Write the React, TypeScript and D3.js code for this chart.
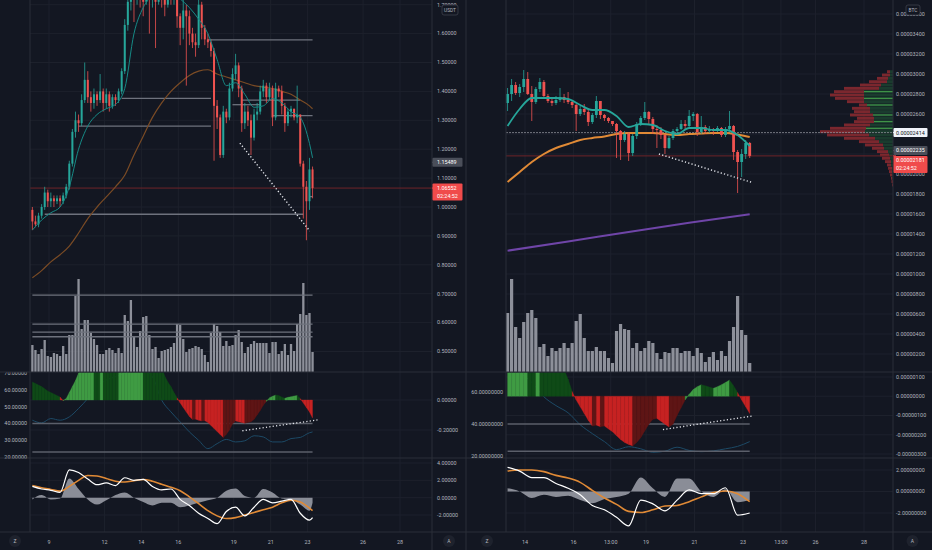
import * as d3 from "d3";

const candlesPerDay = 6; // 4h candles

// ---------------- left chart (USDT pair) ----------------
const leftTimeTicks = [9, 12, 14, 16, 19, 21, 23, 26, 28];
const leftTimeLabels = ["9", "12", "14", "16", "19", "21", "23", "26", "28"];
const leftFirstDay = 8.1;
const leftFirstOpen = 0.99;
const leftClose = [0.95, 0.94, 0.97, 1.0, 1.05, 1.02, 1.03, 1.02, 1.03, 1.02, 1.04, 1.07, 1.15, 1.26, 1.3, 1.29, 1.37, 1.44, 1.38, 1.36, 1.39, 1.37, 1.4, 1.36, 1.39, 1.35, 1.38, 1.37, 1.4, 1.47, 1.63, 1.71, 1.74, 1.72, 1.75, 1.73, 1.71, 1.74, 1.72, 1.73, 1.71, 1.74, 1.73, 1.7, 1.73, 1.72, 1.74, 1.66, 1.62, 1.68, 1.66, 1.6, 1.57, 1.56, 1.7, 1.62, 1.58, 1.57, 1.54, 1.35, 1.31, 1.18, 1.33, 1.31, 1.41, 1.46, 1.49, 1.41, 1.29, 1.33, 1.3, 1.24, 1.32, 1.33, 1.4, 1.42, 1.38, 1.41, 1.31, 1.41, 1.4, 1.35, 1.29, 1.33, 1.34, 1.31, 1.32, 1.15, 1.07, 1.02, 1.13, 1.066];
const leftHigh = [1.0, 0.97, 0.98, 1.01, 1.07, 1.06, 1.05, 1.04, 1.04, 1.04, 1.05, 1.08, 1.16, 1.27, 1.33, 1.32, 1.39, 1.5, 1.47, 1.4, 1.41, 1.4, 1.46, 1.41, 1.41, 1.4, 1.39, 1.39, 1.41, 1.48, 1.65, 1.73, 1.77, 1.76, 1.78, 1.77, 1.75, 1.76, 1.76, 1.75, 1.74, 1.76, 1.78, 1.74, 1.75, 1.76, 1.77, 1.75, 1.67, 1.72, 1.7, 1.68, 1.62, 1.6, 1.72, 1.71, 1.63, 1.6, 1.58, 1.55, 1.37, 1.32, 1.35, 1.34, 1.43, 1.48, 1.53, 1.5, 1.42, 1.36, 1.35, 1.32, 1.34, 1.36, 1.42, 1.44, 1.43, 1.43, 1.42, 1.43, 1.42, 1.42, 1.36, 1.34, 1.35, 1.34, 1.42, 1.32, 1.16, 1.09, 1.17, 1.14];
const leftLow = [0.92, 0.93, 0.93, 0.96, 0.99, 1.0, 1.0, 1.0, 1.01, 1.0, 1.01, 1.03, 1.06, 1.14, 1.24, 1.26, 1.28, 1.36, 1.36, 1.33, 1.34, 1.35, 1.36, 1.33, 1.34, 1.33, 1.34, 1.35, 1.36, 1.39, 1.46, 1.61, 1.68, 1.64, 1.7, 1.69, 1.66, 1.7, 1.6, 1.69, 1.55, 1.7, 1.69, 1.66, 1.69, 1.7, 1.7, 1.62, 1.56, 1.58, 1.42, 1.56, 1.55, 1.52, 1.55, 1.58, 1.56, 1.55, 1.52, 1.16, 1.27, 1.17, 1.17, 1.29, 1.3, 1.4, 1.44, 1.38, 1.26, 1.27, 1.28, 1.18, 1.23, 1.3, 1.32, 1.38, 1.36, 1.37, 1.28, 1.3, 1.38, 1.32, 1.26, 1.28, 1.31, 1.3, 1.29, 1.14, 0.96, 0.885, 0.99, 1.03];
const leftVolume = [27, 22, 18, 23, 32, 16, 15, 19, 18, 16, 26, 18, 37, 37, 76, 93, 43, 52, 52, 39, 33, 27, 18, 18, 22, 24, 22, 19, 24, 19, 57, 51, 72, 35, 25, 41, 55, 56, 37, 23, 25, 14, 21, 22, 23, 25, 29, 48, 47, 33, 20, 23, 24, 26, 25, 23, 17, 10, 39, 48, 46, 40, 26, 31, 26, 27, 37, 42, 30, 19, 25, 28, 31, 29, 29, 29, 29, 19, 30, 30, 18, 21, 28, 17, 28, 21, 48, 58, 89, 57, 59, 20];
const leftSqueeze = [0.12, 0.11, 0.1, 0.09, 0.075, 0.06, 0.05, 0.04, 0.03, 0.02, -0.005, 0.01, 0.05, 0.09, 0.13, 0.18, 0.22, 0.26, 0.3, 0.33, 0.35, 0.34, 0.33, 0.36, 0.35, 0.34, 0.33, 0.32, 0.31, 0.33, 0.36, 0.4, 0.44, 0.47, 0.5, 0.52, 0.54, 0.53, 0.5, 0.46, 0.41, 0.35, 0.22, 0.16, 0.12, 0.09, 0.05, 0.015, -0.02, -0.05, -0.08, -0.11, -0.13, -0.128, -0.135, -0.14, -0.138, -0.15, -0.17, -0.19, -0.21, -0.23, -0.25, -0.23, -0.2, -0.16, -0.14, -0.145, -0.15, -0.155, -0.15, -0.145, -0.13, -0.1, -0.07, -0.035, -0.01, 0.015, 0.025, 0.033, 0.03, 0.02, 0.012, 0.018, 0.022, 0.027, 0.03, 0.01, -0.02, -0.05, -0.08, -0.12];
// indicator lines read every third candle
const leftSampleIdx = [0, 3, 6, 9, 12, 15, 18, 21, 24, 27, 30, 33, 36, 39, 42, 45, 48, 51, 54, 57, 60, 63, 66, 69, 72, 75, 78, 81, 84, 87, 90, 91];
const leftRsi = [42, 40.4, 43, 42, 44, 49, 55, 62, 66, 68, 70, 72, 72, 68, 54, 47, 41, 35, 30, 25, 28, 30.5, 29, 29.7, 32.7, 32, 29, 29, 31, 31.7, 34.5, 35];
const leftMacd = [1.3, 1.0, 0.85, 0.6, 3.2, 2.9, 2.15, 1.5, 1.7, 1.4, 2.3, 2.0, 2.1, 1.3, 0.9, 1.0, -0.2, -0.9, -1.8, -2.4, -3.0, -1.6, -1.1, -2.1, -1.1, -0.2, -0.6, -0.4, -0.2, -1.8, -2.6, -2.3];
const leftSignal = [1.4, 1.15, 0.95, 0.75, 1.3, 2.0, 2.55, 2.5, 2.2, 1.9, 1.8, 1.95, 2.1, 1.9, 1.55, 1.2, 0.8, 0.1, -0.7, -1.5, -2.1, -2.4, -2.3, -2.0, -1.7, -1.4, -1.1, -0.6, -0.3, -0.5, -1.2, -1.5];
const leftHist = [-0.2, 0.3, -0.2, -0.1, 2.2, 1.0, -0.2, -0.8, -0.3, 0.3, 0.6, 0, -0.5, -0.9, -0.6, -0.6, -1.1, -0.9, -0.6, -0.3, 0, 0.8, 1.05, 0.2, 0, 1.0, 0.6, -0.1, -0.2, -0.8, -1.5, -0.6];
const leftEma = [0.92, 0.955, 0.98, 1.0, 1.07, 1.2, 1.28, 1.32, 1.34, 1.355, 1.41, 1.6, 1.69, 1.73, 1.74, 1.74, 1.72, 1.69, 1.65, 1.6, 1.51, 1.42, 1.43, 1.39, 1.345, 1.35, 1.375, 1.36, 1.33, 1.31, 1.22, 1.17];
const leftSma = [0.755, 0.78, 0.81, 0.835, 0.865, 0.91, 0.96, 1.0, 1.035, 1.07, 1.11, 1.18, 1.245, 1.31, 1.36, 1.4, 1.43, 1.455, 1.47, 1.475, 1.46, 1.45, 1.44, 1.43, 1.42, 1.415, 1.41, 1.4, 1.39, 1.37, 1.35, 1.34];
const leftLevelPrice = [1.578, 1.376, 1.28, 0.975, 1.37, 1.316, 1.036, 1.354, 0.695, 0.595, 0.567, 0.551];
const leftLevelFrom = [57, 29, 15, 4, 68, 78, 90, 65, 0, 0, 0, 0];
const leftLevelTo = [91, 58, 58, 88, 87, 91, 91, 74, 91, 91, 91, 91];
const leftTrendIdx = [67.4, 90.1];
const leftTrendPrice = [1.221, 0.917];
const leftSqzTrendIdx = [68.2, 92.6];
const leftSqzTrendVal = [-0.205, -0.133];
const leftPriceTicks = [0.5, 0.6, 0.7, 0.8, 0.9, 1.0, 1.1, 1.2, 1.3, 1.4, 1.5, 1.6, 1.7];
const leftSqzTicks = [0, -0.2];
const leftRsiTicks = [70, 60, 50, 40, 30, 20];
const leftMacdTicks = [4, 2, 0, -2];

// ---------------- right chart (BTC pair, values in 1e-6 BTC) ----------------
const rightTimeTicks = [14, 16, 17.54, 19, 21, 23, 24.57, 26, 28];
const rightTimeLabels = ["14", "16", "13:00", "19", "21", "23", "13:00", "26", "28"];
const rightFirstDay = 13.28;
const rightFirstOpen = 27.1;
const rightClose = [28.0, 28.9, 28.1, 28.7, 29.5, 28.0, 27.2, 28.5, 29.2, 27.8, 27.3, 27.1, 27.4, 27.7, 27.4, 27.2, 26.9, 26.0, 26.5, 26.2, 25.2, 25.9, 27.3, 25.9, 25.6, 25.3, 25.0, 24.3, 23.4, 24.0, 22.1, 23.8, 25.0, 25.6, 26.2, 25.5, 24.5, 24.4, 23.9, 22.6, 23.6, 24.3, 24.5, 25.0, 24.8, 25.8, 26.0, 24.2, 24.7, 24.3, 24.5, 24.3, 24.6, 23.9, 24.5, 24.8, 22.2, 21.2, 22.0, 23.1, 21.81];
const rightHigh = [28.6, 29.5, 29.2, 29.0, 30.4, 30.2, 28.8, 28.7, 29.6, 29.4, 28.0, 27.6, 27.8, 28.6, 28.0, 28.2, 27.4, 27.0, 26.8, 27.0, 26.4, 26.1, 27.8, 27.3, 26.0, 25.7, 25.3, 25.1, 24.4, 24.3, 24.2, 24.0, 25.2, 25.8, 27.2, 26.3, 25.7, 24.9, 24.7, 24.0, 23.8, 24.5, 24.7, 25.4, 25.4, 26.4, 26.2, 26.1, 25.8, 24.9, 24.8, 24.6, 24.8, 24.7, 24.7, 26.3, 24.9, 22.4, 22.5, 23.4, 23.2];
const rightLow = [26.3, 27.3, 27.9, 27.7, 28.2, 27.9, 25.3, 27.0, 28.2, 27.6, 27.1, 26.8, 26.9, 27.2, 27.1, 27.0, 26.6, 24.3, 25.8, 25.9, 24.8, 25.0, 25.6, 25.5, 25.3, 25.1, 24.8, 21.6, 21.4, 23.2, 21.3, 21.8, 23.5, 24.8, 25.4, 25.0, 24.0, 22.6, 23.5, 22.0, 22.5, 23.4, 24.1, 24.4, 24.5, 24.6, 25.3, 23.8, 24.0, 24.0, 24.1, 23.9, 24.2, 23.7, 23.7, 24.3, 21.4, 18.1, 19.7, 21.5, 21.6];
const rightVolume = [59, 93, 45, 34, 50, 59, 62, 54, 25, 28, 16, 24, 21, 24, 29, 24, 29, 51, 58, 34, 21, 21, 25, 21, 21, 14, 9, 41, 48, 43, 42, 24, 29, 21, 24, 31, 29, 19, 13, 20, 19, 24, 24, 19, 21, 21, 16, 24, 19, 10, 15, 20, 12, 21, 16, 31, 45, 76, 42, 37, 9];
const rightSqueeze = [1.6, 1.7, 1.8, 1.9, 2.0, 2.1, 2.05, 2.0, 2.1, 2.05, 2.0, 1.9, 1.8, 1.65, 1.4, 0.9, 0.25, -0.2, -0.55, -0.9, -1.25, -1.55, -1.5, -1.58, -1.55, -1.7, -1.85, -2.05, -2.25, -2.4, -2.5, -2.58, -2.4, -2.15, -1.8, -1.45, -1.2, -1.15, -1.3, -1.45, -1.6, -1.45, -1.0, -0.6, -0.2, 0.1, 0.35, 0.5, 0.6, 0.55, 0.48, 0.42, 0.5, 0.6, 0.72, 0.84, 0.55, 0.2, -0.2, -0.55, -0.9];
const rightSampleIdx = [0, 3, 6, 9, 12, 15, 18, 21, 24, 27, 30, 33, 36, 39, 42, 45, 48, 51, 54, 57, 60];
const rightRsi = [75, 72, 66, 57, 51.5, 47, 39.5, 34, 29, 24, 25.8, 24.5, 22.3, 23, 25.5, 23.5, 22.7, 23.2, 24.5, 26, 29];
const rightMacd = [2.25, 1.9, 1.3, 1.3, 0.75, 0.3, -0.3, -1.3, -1.7, -2.4, -3.2, -0.8, -1.15, -1.8, -0.8, 0.15, -0.2, -0.2, 0.35, -2.2, -2.0];
const rightSignal = [1.9, 2.0, 2.0, 1.85, 1.5, 1.25, 0.85, 0.1, -0.6, -1.2, -1.85, -1.95, -1.7, -1.35, -1.3, -0.95, -0.5, -0.1, 0.05, -0.2, -0.95];
const rightHist = [0.3, 0.0, -0.6, -0.3, -0.5, -0.4, -0.8, -1.1, -0.7, -0.5, -0.2, 1.3, 0.3, -0.5, 1.2, 1.2, 0.0, -0.5, 0.2, -1.0, -0.8];
const rightEma = [24.8, 26.5, 27.6, 27.6, 27.6, 27.5, 26.9, 26.4, 26.4, 25.8, 24.7, 25.0, 24.9, 24.3, 24.0, 24.6, 24.6, 24.4, 24.4, 23.9, 22.8];
const rightSma = [19.2, 20.2, 21.2, 22.0, 22.6, 23.0, 23.4, 23.6, 23.75, 24.0, 24.1, 24.1, 24.1, 24.0, 23.9, 24.0, 24.05, 24.1, 24.1, 23.95, 23.7];
const rightLongIdx = [0, 15, 30, 45, 60];
const rightLongMa = [12.33, 13.25, 14.2, 15.12, 15.97];
const rightTrendIdx = [37.5, 60.8];
const rightTrendPrice = [22.0, 19.13];
const rightSqzTrendIdx = [38.5, 60.8];
const rightSqzTrendVal = [-1.73, -1.02];
const rightPriceTicks = [2, 4, 6, 8, 10, 12, 14, 16, 18, 20, 22, 24, 26, 28, 30, 32, 34, 36];
const rightSqzTicks = [1, 0, -1, -2, -3];
const rightRsiTicks = [60, 40, 20];
const rightMacdTicks = [2, 0, -2];
// visible range volume profile (rows of 0.333e-6 from the top)
const profileTop = 30.23;
const profileRow = 0.333;
const profileTotal = [6, 11, 16, 24, 33, 49, 59, 63, 58, 46, 34, 41, 39, 43, 36, 39, 49, 63, 73, 66, 49, 34, 28, 21, 16, 13, 11, 8, 6, 5, 4, 3, 2, 1.5, 1];
const profileUp = [3, 3, 5, 6, 12, 14, 29, 29, 29, 29, 26, 23, 23, 20, 19, 19, 23, 27, 28, 24, 18, 14, 10, 9, 5, 4, 3, 2, 2, 1, 1, 0.5, 0.5, 0, 0];
const profileMarked = [6, 8, 10, 13, 15, 17];

const rsiLevels = [40, 23];

// ---------------- styling ----------------
const BG = "#131722";
const GRID = "#1d212c";
const BORDER = "#2a2e39";
const TXT = "#b2b5be";
const UP = "#26a69a";
const DOWN = "#ef5350";
const FONT = "Roboto, 'DejaVu Sans', sans-serif";
const FS = 5.4;

const Y = { priceTop: 0, priceBottom: 372, sqzBottom: 458, macdBottom: 532, axisBottom: 550 };

const fmtL = (v: number) => v.toFixed(5);
const fmtR = (v: number) => (v * 1e-6).toFixed(8);
const fmt8 = (v: number) => v.toFixed(8);

const sqzColor = (v: number, prev: number) =>
  v >= 0 ? (v >= prev ? "#3f9b43" : "#0f4a17") : v <= prev ? "#c62222" : "#5e1515";

function Pane({ s }: { s: any }) {
  const n = s.close.length;
  const xt = d3.scaleLinear().domain(s.timeDomain).range(s.timeRange);
  const xi = (i: number) => xt(s.firstDay + i / candlesPerDay);
  const yP = d3.scaleLinear().domain(s.priceDomain).range(s.priceRange);
  const yV = d3.scaleLinear().domain([0, 100]).range([Y.priceBottom, 272]);
  const yS = d3.scaleLinear().domain(s.sqzDomain).range(s.sqzRange);
  const yR = d3.scaleLinear().domain(s.rsiDomain).range(s.rsiRange);
  const yM = d3.scaleLinear().domain(s.macdDomain).range(s.macdRange);
  const id = s.id;
  const { plotL, plotR, paneL, paneR } = s;

  const sampled = (vals: number[], idx: number[], y: any) =>
    d3
      .line<number>()
      .x((_, k) => xi(idx[k]))
      .y((v) => y(v))
      .curve(d3.curveMonotoneX)(vals) || "";

  const histArea =
    d3
      .area<number>()
      .x((_, k) => xi(s.sampleIdx[k]))
      .y0(yM(0))
      .y1((v) => yM(v))
      .curve(d3.curveMonotoneX)(s.hist) || "";

  const opens = s.close.map((c: number, i: number) => (i === 0 ? s.firstOpen : s.close[i - 1]));
  const bodyW = s.bodyW;

  // tag boxes (highlighted price labels) hide the axis labels under them
  const tagBoxes = s.tags.map((t: any) => {
    const top = t.top !== undefined ? t.top : yP(t.value) - 4.5;
    return { ...t, top, bottom: top + (t.sub ? 17 : 9) };
  });
  const hidden = (y: number) => tagBoxes.some((b: any) => y > b.top && y < b.bottom);

  return (
    <g>
      <defs>
        <clipPath id={`${id}-p`}>
          <rect x={plotL} y={0} width={plotR - plotL} height={Y.priceBottom} />
        </clipPath>
        <clipPath id={`${id}-s`}>
          <rect x={plotL} y={Y.priceBottom + 0.5} width={plotR - plotL} height={Y.sqzBottom - Y.priceBottom - 0.5} />
        </clipPath>
        <clipPath id={`${id}-sl`}>
          <rect x={paneL} y={Y.priceBottom + 0.5} width={plotL - paneL} height={Y.sqzBottom - Y.priceBottom} />
        </clipPath>
        <clipPath id={`${id}-m`}>
          <rect x={plotL} y={Y.sqzBottom + 0.5} width={plotR - plotL} height={Y.macdBottom - Y.sqzBottom - 0.5} />
        </clipPath>
      </defs>

      {/* grid */}
      {s.timeTicks.map((d: number, k: number) => (
        <line key={`vg${k}`} x1={xt(d)} x2={xt(d)} y1={0} y2={Y.macdBottom} stroke={GRID} />
      ))}
      {s.priceTicks.map((v: number, k: number) =>
        yP(v) > 2 && yP(v) < Y.priceBottom ? (
          <line key={`hg${k}`} x1={plotL} x2={plotR} y1={yP(v)} y2={yP(v)} stroke={GRID} />
        ) : null
      )}
      {s.sqzTicks.map((v: number, k: number) => (
        <line key={`sg${k}`} x1={plotL} x2={plotR} y1={yS(v)} y2={yS(v)} stroke={GRID} />
      ))}
      {s.macdTicks.map((v: number, k: number) => (
        <line key={`mg${k}`} x1={plotL} x2={plotR} y1={yM(v)} y2={yM(v)} stroke={GRID} />
      ))}

      {/* price panel */}
      <g clipPath={`url(#${id}-p)`}>
        {s.volume.map((v: number, i: number) => (
          <rect key={`v${i}`} x={xi(i) - s.volW / 2} y={yV(v)} width={s.volW} height={yV(0) - yV(v)} fill="#8d909a" />
        ))}
        {(s.levelPrice || []).map((p: number, k: number) => (
          <line
            key={`lv${k}`}
            x1={xi(s.levelFrom[k])}
            x2={xi(s.levelTo[k])}
            y1={yP(p)}
            y2={yP(p)}
            stroke="#6e727d"
            strokeWidth={1.3}
          />
        ))}
        {s.profileTotal &&
          s.profileTotal.map((t: number, r: number) => {
            const yc = yP(s.profileTop - r * s.profileRow);
            const h = Math.abs(yP(0) - yP(s.profileRow)) - 0.4;
            const up = s.profileUp[r];
            return (
              <g key={`pf${r}`}>
                <rect x={plotR - t} y={yc - h / 2} width={t - up} height={h} fill="#8e2a30" fillOpacity={0.85} />
                <rect x={plotR - up} y={yc - h / 2} width={up} height={h} fill="#1c4030" fillOpacity={0.9} />
                {s.profileMarked.includes(r) ? (
                  <line x1={plotR - up} x2={plotR} y1={yc} y2={yc} stroke="#4caf50" strokeWidth={0.9} />
                ) : null}
              </g>
            );
          })}
        {s.grayLine !== undefined ? (
          <line x1={plotL} x2={plotR} y1={yP(s.grayLine)} y2={yP(s.grayLine)} stroke="#8a8d96" strokeWidth={0.8} strokeDasharray="2 1" />
        ) : null}
        <line x1={plotL} x2={plotR} y1={yP(s.lastPrice)} y2={yP(s.lastPrice)} stroke="#6e2329" strokeWidth={1} />
        {s.longIdx ? (
          <path d={sampled(s.longMa, s.longIdx, yP)} fill="none" stroke="#6f45a8" strokeWidth={2} />
        ) : null}
        <path d={sampled(s.sma, s.sampleIdx, yP)} fill="none" stroke={s.smaColor} strokeWidth={s.smaW} />
        {s.close.map((c: number, i: number) => {
          const o = opens[i];
          const col = c >= o ? UP : DOWN;
          const x = xi(i);
          const top = yP(Math.max(o, c));
          const bh = Math.max(0.8, Math.abs(yP(o) - yP(c)));
          return (
            <g key={`c${i}`}>
              <line x1={x} x2={x} y1={yP(s.high[i])} y2={yP(s.low[i])} stroke={col} strokeWidth={0.8} />
              <rect x={x - bodyW / 2} y={top} width={bodyW} height={bh} fill={col} />
            </g>
          );
        })}
        <path d={sampled(s.ema, s.sampleIdx, yP)} fill="none" stroke={s.emaColor} strokeWidth={s.emaW} />
        <line
          x1={xi(s.trendIdx[0])}
          x2={xi(s.trendIdx[1])}
          y1={yP(s.trendPrice[0])}
          y2={yP(s.trendPrice[1])}
          stroke="#e6e8ee"
          strokeWidth={1.4}
          strokeDasharray="1.2 2.2"
        />
      </g>

      {/* squeeze momentum + rsi panel */}
      <g clipPath={`url(#${id}-s)`}>
        <path d={sampled(s.rsi, s.sampleIdx, yR)} fill="none" stroke="#1d4a66" strokeWidth={1} />
        {rsiLevels.map((lv, k) => (
          <line key={`rl${k}`} x1={xi(0)} x2={xi(n - 1)} y1={yR(lv)} y2={yR(lv)} stroke="#5b5f6a" strokeWidth={1.4} />
        ))}
        {s.squeeze.map((v: number, i: number) => {
          if (i === 0) return null;
          const pv = s.squeeze[i - 1];
          const x0 = xi(i - 1);
          const x1 = xi(i);
          const z = yS(0);
          return (
            <path
              key={`sq${i}`}
              d={`M${x0},${z}L${x0},${yS(pv)}L${x1},${yS(v)}L${x1},${z}Z`}
              fill={sqzColor(v, pv)}
              stroke={sqzColor(v, pv)}
              strokeWidth={0.3}
            />
          );
        })}
        <line
          x1={xi(s.sqzTrendIdx[0])}
          x2={xi(s.sqzTrendIdx[1])}
          y1={yS(s.sqzTrendVal[0])}
          y2={yS(s.sqzTrendVal[1])}
          stroke="#e6e8ee"
          strokeWidth={1.3}
          strokeDasharray="1.2 2.2"
        />
      </g>

      {/* macd panel */}
      <g clipPath={`url(#${id}-m)`}>
        <path d={histArea} fill="#8a8d97" />
        <path d={sampled(s.signal, s.sampleIdx, yM)} fill="none" stroke="#e08a36" strokeWidth={1.6} />
        <path d={sampled(s.macd, s.sampleIdx, yM)} fill="none" stroke="#ffffff" strokeWidth={1.2} />
      </g>

      {/* borders */}
      <line x1={paneL} x2={paneR} y1={Y.priceBottom} y2={Y.priceBottom} stroke={BORDER} />
      <line x1={paneL} x2={paneR} y1={Y.sqzBottom} y2={Y.sqzBottom} stroke={BORDER} />
      <line x1={paneL} x2={paneR} y1={Y.macdBottom} y2={Y.macdBottom} stroke={BORDER} />
      <line x1={plotR} x2={plotR} y1={0} y2={Y.axisBottom} stroke={BORDER} />
      <line x1={plotL} x2={plotL} y1={0} y2={Y.macdBottom} stroke={BORDER} />

      {/* axis labels */}
      <g fontFamily={FONT} fontSize={FS} fill={TXT}>
        {s.priceTicks.map((v: number, k: number) =>
          yP(v) > 2 && yP(v) < Y.priceBottom - 4 && !hidden(yP(v)) ? (
            <text key={`pt${k}`} x={s.axisX} y={yP(v)} dy="0.35em">
              {s.fmtPrice(v)}
            </text>
          ) : null
        )}
        {s.sqzTicks.map((v: number, k: number) => (
          <text key={`st${k}`} x={s.axisX} y={yS(v)} dy="0.35em">
            {s.fmtSqz(v)}
          </text>
        ))}
        {s.macdTicks.map((v: number, k: number) => (
          <text key={`mt${k}`} x={s.axisX} y={yM(v)} dy="0.35em">
            {s.fmtMacd(v)}
          </text>
        ))}
        <g clipPath={`url(#${id}-sl)`}>
          {s.rsiTicks.map((v: number, k: number) => (
            <text key={`rt${k}`} x={plotL - 3} y={yR(v)} dy="0.35em" textAnchor="end">
              {s.fmtRsi(v)}
            </text>
          ))}
        </g>
        {s.timeTicks.map((d: number, k: number) => (
          <text key={`tt${k}`} x={xt(d)} y={542} textAnchor="middle" dy="0.35em">
            {s.timeLabels[k]}
          </text>
        ))}
      </g>

      {/* highlighted price labels */}
      <g fontFamily={FONT} fontSize={FS}>
        {tagBoxes.map((t: any, k: number) => {
          const yc = yP(t.value);
          return (
            <g key={`tag${k}`}>
              <line x1={plotR} x2={plotR + 3} y1={yc} y2={yc} stroke={t.bg} />
              <rect x={plotR + 0.5} y={t.top} width={s.tagW} height={t.bottom - t.top} fill={t.bg} rx={1} />
              <text x={s.axisX} y={t.top + 4.6} dy="0.35em" fill={t.fg}>
                {t.label}
              </text>
              {t.sub ? (
                <text x={s.axisX} y={t.top + 12.4} dy="0.35em" fill={t.fg}>
                  {t.sub}
                </text>
              ) : null}
            </g>
          );
        })}
        <rect x={s.unitX} y={5} width={s.unitW} height={10} rx={2} fill={BG} stroke="#434651" strokeWidth={0.7} />
        <text x={s.unitX + s.unitW / 2} y={10} dy="0.35em" textAnchor="middle" fill={TXT} fontSize={4.8}>
          {s.unit}
        </text>
      </g>

      {/* corner buttons of the time axis */}
      <g fontFamily={FONT} fontSize={5} fill={TXT}>
        <circle cx={s.zX} cy={541} r={6} fill="#1e222d" />
        <text x={s.zX} y={541} dy="0.35em" textAnchor="middle">
          Z
        </text>
        <circle cx={(plotR + paneR) / 2} cy={541} r={6} fill="#1e222d" />
        <text x={(plotR + paneR) / 2} y={541} dy="0.35em" textAnchor="middle">
          A
        </text>
      </g>
    </g>
  );
}

const leftSpec = {
  id: "L",
  paneL: 0,
  paneR: 466,
  plotL: 30,
  plotR: 432,
  axisX: 437,
  tagW: 30,
  zX: 15,
  unit: "USDT",
  unitX: 442,
  unitW: 16,
  timeTicks: leftTimeTicks,
  timeLabels: leftTimeLabels,
  timeDomain: [9, 28],
  timeRange: [49, 400],
  firstDay: leftFirstDay,
  firstOpen: leftFirstOpen,
  close: leftClose,
  high: leftHigh,
  low: leftLow,
  volume: leftVolume,
  squeeze: leftSqueeze,
  sampleIdx: leftSampleIdx,
  rsi: leftRsi,
  macd: leftMacd,
  signal: leftSignal,
  hist: leftHist,
  ema: leftEma,
  sma: leftSma,
  emaColor: "#168a86",
  emaW: 1,
  smaColor: "#7a4b25",
  smaW: 1.2,
  levelPrice: leftLevelPrice,
  levelFrom: leftLevelFrom,
  levelTo: leftLevelTo,
  trendIdx: leftTrendIdx,
  trendPrice: leftTrendPrice,
  sqzTrendIdx: leftSqzTrendIdx,
  sqzTrendVal: leftSqzTrendVal,
  priceTicks: leftPriceTicks,
  sqzTicks: leftSqzTicks,
  rsiTicks: leftRsiTicks,
  macdTicks: leftMacdTicks,
  priceDomain: [0.5, 1.6],
  priceRange: [351.5, 33.6],
  sqzDomain: [0, -0.2],
  sqzRange: [400, 430],
  rsiDomain: [20, 70],
  rsiRange: [457, 373.4],
  macdDomain: [-2, 4],
  macdRange: [515, 463],
  bodyW: 2,
  volW: 2.3,
  lastPrice: 1.06552,
  fmtPrice: fmtL,
  fmtSqz: fmtL,
  fmtRsi: fmtL,
  fmtMacd: fmtL,
  tags: [
    { value: 1.15489, label: "1.15489", bg: "#4a4e59", fg: "#ffffff" },
    { value: 1.06552, label: "1.06552", sub: "02:24:52", bg: "#f04b4b", fg: "#ffffff" },
  ],
};

const rightSpec = {
  id: "R",
  paneL: 466,
  paneR: 932,
  plotL: 506,
  plotR: 893,
  axisX: 896,
  tagW: 34,
  zX: 487,
  unit: "BTC",
  unitX: 906,
  unitW: 14,
  timeTicks: rightTimeTicks,
  timeLabels: rightTimeLabels,
  timeDomain: [14, 28],
  timeRange: [525, 864],
  firstDay: rightFirstDay,
  firstOpen: rightFirstOpen,
  close: rightClose,
  high: rightHigh,
  low: rightLow,
  volume: rightVolume,
  squeeze: rightSqueeze,
  sampleIdx: rightSampleIdx,
  rsi: rightRsi,
  macd: rightMacd,
  signal: rightSignal,
  hist: rightHist,
  ema: rightEma,
  sma: rightSma,
  emaColor: "#26a69a",
  emaW: 1.8,
  smaColor: "#e08a36",
  smaW: 2,
  longIdx: rightLongIdx,
  longMa: rightLongMa,
  profileTop,
  profileRow,
  profileTotal,
  profileUp,
  profileMarked,
  grayLine: 24.14,
  trendIdx: rightTrendIdx,
  trendPrice: rightTrendPrice,
  sqzTrendIdx: rightSqzTrendIdx,
  sqzTrendVal: rightSqzTrendVal,
  priceTicks: rightPriceTicks,
  sqzTicks: rightSqzTicks,
  rsiTicks: rightRsiTicks,
  macdTicks: rightMacdTicks,
  priceDomain: [10, 36],
  priceRange: [274, 14],
  sqzDomain: [-3, 1],
  sqzRange: [454, 377],
  rsiDomain: [20, 60],
  rsiRange: [456, 392],
  macdDomain: [-2, 2],
  macdRange: [513, 470],
  bodyW: 2.8,
  volW: 3.2,
  lastPrice: 21.81,
  fmtPrice: fmtR,
  fmtSqz: fmtR,
  fmtRsi: fmt8,
  fmtMacd: fmt8,
  tags: [
    { value: 24.14, label: "0.00002414", bg: "#f0f3fa", fg: "#131722" },
    { value: 22.35, label: "0.00002235", bg: "#4a4e59", fg: "#ffffff" },
    { value: 21.81, label: "0.00002181", sub: "02:24:52", bg: "#f04b4b", fg: "#ffffff", top: 156 },
  ],
};

export default function App() {
  return (
    <svg
      width={932}
      height={550}
      viewBox="0 0 932 550"
      style={{ position: "absolute", left: 0, top: 0, display: "block" }}
    >
      <rect width={932} height={550} fill={BG} />
      <Pane s={leftSpec} />
      <Pane s={rightSpec} />
      <line x1={466} x2={466} y1={0} y2={550} stroke={BORDER} />
    </svg>
  );
}
